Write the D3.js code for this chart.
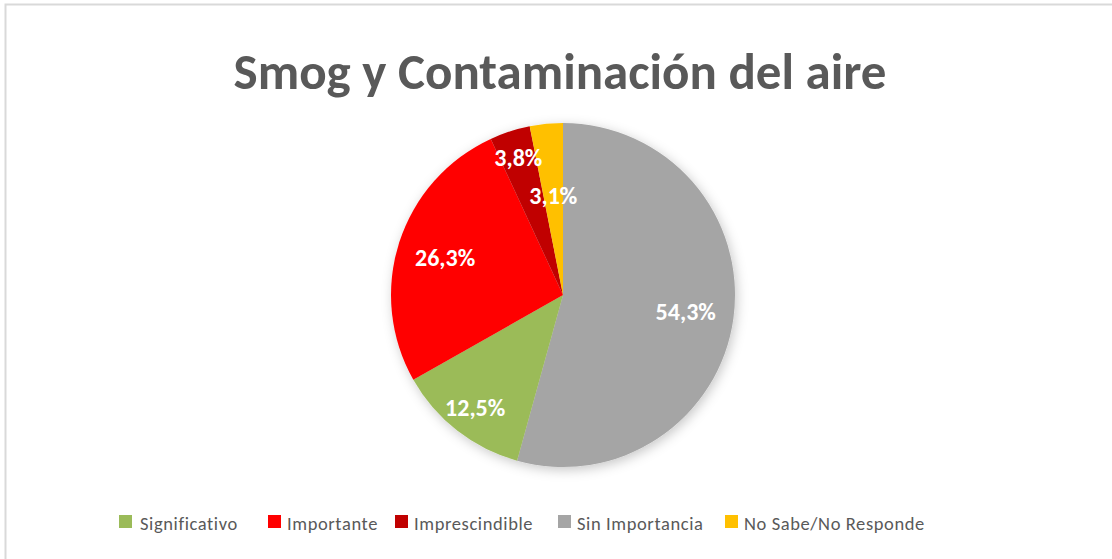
<!DOCTYPE html>
<html>
<head>
<meta charset="utf-8">
<script src="https://cdn.jsdelivr.net/npm/d3@7"></script>
<style>
  body { margin: 0; background: #fff; }
  svg { display: block; font-family: Calibri, Carlito, "Open Sans", sans-serif; }
</style>
</head>
<body>
<div id="root"></div>
<script>
const categories = ['Sin Importancia', 'Significativo', 'Importante', 'Imprescindible', 'No Sabe/No Responde'];
const values = [54.3, 12.5, 26.3, 3.8, 3.1];
const colors = ['#a5a5a5', '#9bbb59', '#ff0000', '#c00000', '#ffc000'];
const legendOrder = ['Significativo', 'Importante', 'Imprescindible', 'Sin Importancia', 'No Sabe/No Responde'];
const title = 'Smog y Contaminación del aire';

const width = 1112;
const height = 559;
const cx = 563, cy = 295, radius = 172;
// excel places labels at slightly different depths per slice
const labelDepth = [0.72, 0.83, 0.72, 0.84, 0.58];
const legendX = [119, 268, 395, 558, 725];

const svg = d3.select('#root')
    .append('svg')
    .attr('width', width)
    .attr('height', height);

const defs = svg.append('defs');
const shadow = defs.append('filter')
    .attr('id', 'shadow')
    .attr('x', '-20%').attr('y', '-20%')
    .attr('width', '140%').attr('height', '140%');
shadow.append('feDropShadow')
    .attr('dx', 2).attr('dy', 3)
    .attr('stdDeviation', 6)
    .attr('flood-color', '#000')
    .attr('flood-opacity', 0.22);

// frame
svg.append('path')
    .attr('d', `M5.5,${height}V4.5H${width}`)
    .attr('fill', 'none')
    .attr('stroke', '#d9d9d9')
    .attr('stroke-width', 2);

svg.append('text')
    .attr('x', 560)
    .attr('y', 89)
    .attr('text-anchor', 'middle')
    .attr('font-size', 51)
    .attr('font-weight', 'bold')
    .attr('fill', '#595959')
    .text(title);

const color = d3.scaleOrdinal(categories, colors);
const pie = d3.pie().sort(null).value(d => d.value);
const arc = d3.arc().innerRadius(0).outerRadius(radius);
const data = categories.map((name, i) => ({name, value: values[i]}));
const arcs = pie(data);

const g = svg.append('g')
    .attr('transform', `translate(${cx},${cy})`);

g.append('g')
    .attr('filter', 'url(#shadow)')
    .selectAll('path')
    .data(arcs)
    .join('path')
    .attr('d', arc)
    .attr('fill', d => color(d.data.name));

g.selectAll('text')
    .data(arcs)
    .join('text')
    .attr('transform', (d, i) => {
        const r = radius * labelDepth[i];
        const a = (d.startAngle + d.endAngle) / 2;
        return `translate(${Math.sin(a) * r},${-Math.cos(a) * r})`;
    })
    .attr('text-anchor', 'middle')
    .attr('dy', '0.35em')
    .attr('font-size', 24)
    .attr('font-weight', 'bold')
    .attr('fill', '#fff')
    .text(d => d3.format('.1f')(d.data.value).replace('.', ',') + '%');

const legend = svg.append('g')
    .selectAll('g')
    .data(legendOrder)
    .join('g')
    .attr('transform', (d, i) => `translate(${legendX[i]},515)`);

legend.append('rect')
    .attr('width', 13)
    .attr('height', 13)
    .attr('fill', d => color(d));

legend.append('text')
    .attr('x', d => d === 'Significativo' ? 21 : 19)
    .attr('y', 14.5)
    .attr('font-size', 18.5)
    .attr('letter-spacing', 0.6)
    .attr('fill', '#595959')
    .text(d => d);
</script>
</body>
</html>
